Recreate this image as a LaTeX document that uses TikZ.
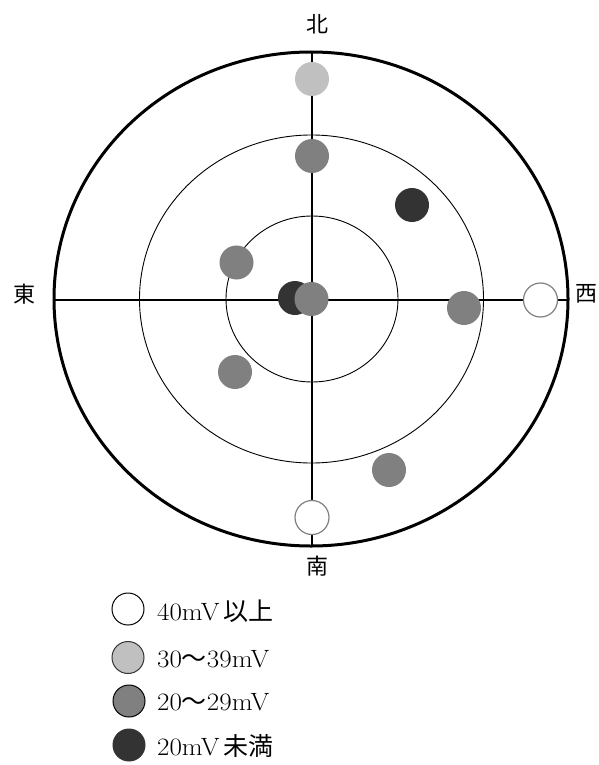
\documentclass[tikz,border=0pt]{standalone}
\usepackage{fontspec}
\usepackage{graphicx}
\newfontfamily\cjk{Noto Sans CJK JP}
\definecolor{lg}{HTML}{C0C0C0}
\definecolor{mg}{HTML}{808080}
\definecolor{dk}{HTML}{333333}
\tikzset{
  dot/.style={circle, minimum size=34pt, inner sep=0pt, draw=none},
  opendot/.style={circle, minimum size=34pt, inner sep=0pt, draw=mg, line width=1.2pt, fill=white},
  legdot/.style={circle, minimum size=32pt, inner sep=0pt, line width=1pt},
  lbl/.style={anchor=base west, inner sep=0pt, font=\fontsize{25}{25}\selectfont},
  dirlbl/.style={inner sep=0pt, font=\cjk\fontsize{22}{22}\selectfont},
  ring/.style={line width=0.9pt},
}
\newcommand{\widetxt}[1]{\scalebox{1.08}[1]{#1}}
\begin{document}
\begin{tikzpicture}[x=1pt,y=-1pt]
\useasboundingbox (0,0) rectangle (599,765);
% rings
\draw[line width=3pt] (311,299) ellipse [x radius=257pt, y radius=247pt];
\draw[ring] (311.5,299) ellipse [x radius=172pt, y radius=164pt];
\draw[ring] (312,299) ellipse [x radius=86pt, y radius=83pt];
% axes
\coordinate (W) at (54,300);
\coordinate (E) at (567,300);
\coordinate (N) at (312,52);
\coordinate (S) at (312,546);
\draw[line width=1.3pt] (W) -- (E);
\draw[line width=1.3pt] (N) -- (S);
% direction labels
\node[dirlbl] (kita) at (317,24) {北};
\node[dirlbl] (minami) at (317,566) {南};
\node[dirlbl] (higashi) at (24,294) {東};
\node[dirlbl] (nishi) at (586,294) {西};
% dots
\node[dot, fill=lg] (d1) at (312,79) {};
\node[dot, fill=mg] (d2) at (312,156) {};
\node[dot, fill=dk] (d3) at (412,205) {};
\node[dot, fill=mg] (d4) at (236.5,262.5) {};
\node[dot, fill=dk] (d5) at (295,298) {};
\node[dot, fill=mg] (d6) at (311.5,299) {};
\node[dot, fill=mg] (d7) at (464,308) {};
\node[dot, fill=mg] (d8) at (235,372) {};
\node[dot, fill=mg] (d9) at (389,470) {};
\node[opendot] (o1) at (540.5,300) {};
\node[opendot] (o2) at (312,517.5) {};
% legend
\node[legdot, draw=black, fill=white] (l1) at (128,609) {};
\node[legdot, draw=black!80, fill=lg] (l2) at (128,657.5) {};
\node[legdot, draw=black, fill=mg] (l3) at (129,701) {};
\node[legdot, draw=dk, fill=dk] (l4) at (129,745) {};
\node[lbl] (t1) at (157,620.5) {\widetxt{40mV}\,{\cjk 以上}};
\node[lbl] (t2) at (157,667) {\widetxt{30}{\cjk 〜}\widetxt{39mV}};
\node[lbl] (t3) at (157,710.5) {\widetxt{20}{\cjk 〜}\widetxt{29mV}};
\node[lbl] (t4) at (157,755) {\widetxt{20mV}\,{\cjk 未満}};
\end{tikzpicture}
\end{document}
